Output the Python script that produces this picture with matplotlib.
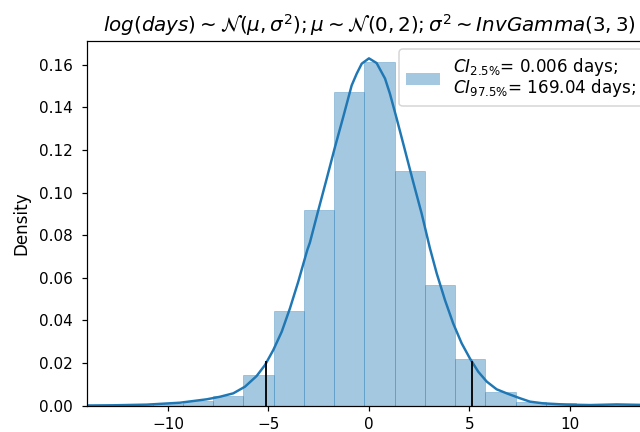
import numpy as np
import matplotlib.pyplot as plt
from matplotlib.patches import Patch

# histogram of log(days) samples (density)
bin_start = -13.77
bin_width = 1.505
bin_heights = [0.0002, 0.0003, 0.0007, 0.0022, 0.0045, 0.0144, 0.0444, 0.0917, 0.1472,
               0.1613, 0.1100, 0.0566, 0.0219, 0.0064, 0.0019, 0.0012, 0.0003, 0.0004]

# kde curve
kde_x = [-14.0, -12.7, -11.06, -9.4, -8.07, -7.41, -6.75, -6.17, -5.59, -5.17, -4.76, -4.34,
         -3.93, -3.52, -3.07, -2.94, -2.52, -2.10, -1.69, -1.28, -0.86, -0.61, -0.36, 0.0,
         0.38, 0.80, 1.04, 1.38, 1.79, 2.20, 2.62, 3.03, 3.37, 3.78, 4.19, 4.61, 5.02, 5.44,
         5.86, 6.35, 6.85, 7.51, 8.01, 8.67, 9.84, 11.0, 12.32, 14.0]
kde_y = [0.0001, 0.0002, 0.0005, 0.0014, 0.0030, 0.0042, 0.0058, 0.0089, 0.0139, 0.0191,
         0.0261, 0.0347, 0.0457, 0.0581, 0.0730, 0.0765, 0.0917, 0.1066, 0.1214, 0.1355,
         0.1503, 0.1558, 0.1605, 0.1630, 0.1608, 0.1535, 0.1465, 0.1347, 0.1199, 0.1050,
         0.0902, 0.0740, 0.0621, 0.0496, 0.0386, 0.0293, 0.0222, 0.0159, 0.0113, 0.0077,
         0.0058, 0.0035, 0.0019, 0.0011, 0.0005, 0.0003, 0.0006, 0.0003]

# 95% credible interval in log(days)
ci_low = np.log(0.006)
ci_high = np.log(169.04)
ci_heights = [0.0208, 0.0208]

edges = bin_start + bin_width * np.arange(len(bin_heights) + 1)

fig = plt.figure(figsize=(640 / 110, 432 / 110), dpi=110)
ax = fig.add_axes([0.1355, 0.0609, 0.882, 0.844])

ax.bar(edges[:-1], bin_heights, width=bin_width, align='edge',
       color='C0', alpha=0.4, edgecolor='C0', linewidth=0.5)
ax.plot(kde_x, kde_y, color='C0', lw=1.6)
ax.vlines([ci_low, ci_high], 0, ci_heights, colors='k', lw=1.2)

ax.set_xlim(-14.04, 14.04)
ax.set_ylim(0, 0.1711)
ax.set_xticks([-10, -5, 0, 5, 10])
ax.tick_params(axis='x', labelsize=10, pad=4.2)
ax.tick_params(axis='y', labelsize=10, pad=5.5)
ax.set_ylabel('Density', fontsize=11, labelpad=6)
ax.set_title(r'$log(days) \sim \mathcal{N}(\mu, \sigma^2); \mu \sim \mathcal{N}(0, 2); '
             r'\sigma^2 \sim InvGamma(3, 3)$', fontsize=13)

label = '$CI_{2.5\\%}$= 0.006 days;\n$CI_{97.5\\%}$= 169.04 days;'
leg = ax.legend(handles=[Patch(facecolor='C0', alpha=0.4)], labels=[label],
                loc='upper right', fontsize=11)
leg.get_texts()[0].set_linespacing(0.95)

fig.savefig('out.png', dpi=110)
